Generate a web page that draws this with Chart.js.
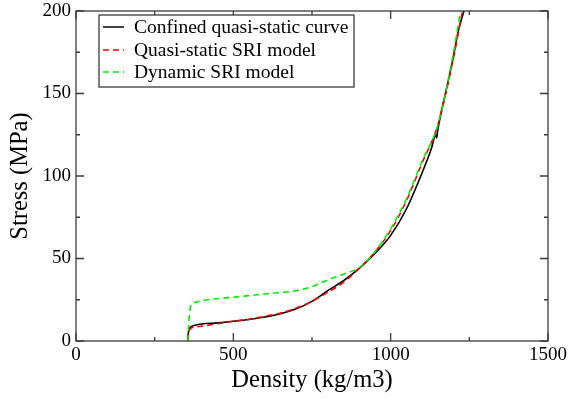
<!DOCTYPE html>
<html><head><meta charset="utf-8">
<script src="https://cdn.jsdelivr.net/npm/chart.js@4/dist/chart.umd.min.js"></script>
<style>html,body{margin:0;padding:0;background:#fff}#wrap{width:568px;height:399px}</style>
</head><body><div id="wrap"><canvas id="c" width="568" height="399"></canvas></div>
<script>
const seriesNames = ["Confined quasi-static curve", "Quasi-static SRI model", "Dynamic SRI model"];
const confinedDensity = [355, 356, 358, 362, 370, 385, 400, 450, 500, 550, 600, 650, 700, 750, 800, 850, 900, 950, 1000, 1050, 1100, 1130, 1143, 1146, 1149, 1160, 1180, 1200, 1215, 1233];
const confinedStress  = [0, 3, 6, 8, 9, 9.8, 10.3, 11, 12, 13, 14.5, 16.5, 19.5, 24, 30.5, 36.5, 44, 53, 64, 80, 102, 117, 125, 123, 127, 138, 155, 173, 188, 200];
const sriDensity = [355, 360, 368, 385, 400, 450, 500, 550, 600, 650, 700, 750, 800, 850, 900, 950, 1000, 1050, 1100, 1150, 1200, 1228];
const sriStress  = [0, 6, 8, 8.6, 9, 10.5, 12, 13.2, 15, 17, 20, 24, 29.5, 35.5, 44, 54, 67, 85, 108, 131, 172, 200];
const dynDensity = [355, 360, 366, 380, 400, 500, 600, 700, 750, 800, 850, 900, 950, 1000, 1050, 1100, 1150, 1200, 1222];
const dynStress  = [0, 15, 22, 23.5, 24.5, 26.5, 28.5, 30.5, 33, 37, 40.5, 44.5, 54, 68, 86, 109, 131, 175, 200];
const xTicks = [0, 500, 1000, 1500];
const yTicks = [0, 50, 100, 150, 200];

const pts = (xs, ys) => xs.map((x, i) => ({x: x, y: ys[i]}));
const serif = "'Liberation Serif', 'DejaVu Serif', serif";

const framePlugin = {
  id: 'frame',
  afterDatasetsDraw(chart) {
    const {ctx, chartArea: a, scales: {x, y}} = chart;
    ctx.save();
    ctx.strokeStyle = '#3a3a3a';
    ctx.lineWidth = 1.3;
    ctx.strokeRect(a.left, a.top, a.right - a.left, a.bottom - a.top);
    ctx.beginPath();
    for (let v = 0; v <= 1500; v += 250) {
      const px = x.getPixelForValue(v);
      const L = (v % 500 === 0) ? 8 : 4;
      ctx.moveTo(px, a.bottom); ctx.lineTo(px, a.bottom - L);
      ctx.moveTo(px, a.top); ctx.lineTo(px, a.top + L);
    }
    for (let v = 0; v <= 200; v += 25) {
      const py = y.getPixelForValue(v);
      const L = (v % 50 === 0) ? 8 : 4;
      ctx.moveTo(a.left, py); ctx.lineTo(a.left + L, py);
      ctx.moveTo(a.right, py); ctx.lineTo(a.right - L, py);
    }
    ctx.stroke();
    // legend
    const bx = 99, by = 15, bw = 255, bh = 72;
    ctx.fillStyle = '#fff';
    ctx.fillRect(bx, by, bw, bh);
    ctx.strokeStyle = '#3a3a3a';
    ctx.lineWidth = 1.3;
    ctx.strokeRect(bx, by, bw, bh);
    const rows = [27, 50, 72];
    chart.data.datasets.forEach((ds, i) => {
      ctx.strokeStyle = ds.borderColor;
      ctx.lineWidth = 1.5;
      ctx.setLineDash(ds.borderDash || []);
      ctx.beginPath();
      ctx.moveTo(103, rows[i]); ctx.lineTo(124, rows[i]);
      ctx.stroke();
      ctx.setLineDash([]);
      ctx.fillStyle = '#000';
      ctx.font = "19.5px " + serif;
      ctx.textBaseline = 'middle';
      ctx.textAlign = 'left';
      ctx.fillText(ds.label, 134, rows[i] + 1);
    });
    ctx.restore();
  }
};

new Chart(document.getElementById('c'), {
  type: 'line',
  data: {
    datasets: [
      {label: seriesNames[0], data: pts(confinedDensity, confinedStress), borderColor: '#000000', borderWidth: 1.6, order: 3},
      {label: seriesNames[1], data: pts(sriDensity, sriStress), borderColor: '#ff0000', borderWidth: 1.6, borderDash: [6, 4], order: 2},
      {label: seriesNames[2], data: pts(dynDensity, dynStress), borderColor: '#00ee00', borderWidth: 1.6, borderDash: [6, 4], order: 1}
    ]
  },
  options: {
    responsive: false,
    animation: false,
    events: [],
    layout: {padding: {left: 6, right: 20, top: 11, bottom: 4}},
    elements: {point: {radius: 0}, line: {cubicInterpolationMode: 'monotone', fill: false}},
    plugins: {legend: {display: false}, tooltip: {enabled: false}},
    scales: {
      x: {
        type: 'linear', min: 0, max: 1500,
        afterBuildTicks: s => { s.ticks = xTicks.map(v => ({value: v})); },
        afterFit: s => { s.height = 54; s.paddingLeft = 0; s.paddingRight = 0; },
        grid: {display: false, drawTicks: false},
        border: {display: false},
        ticks: {color: '#000', font: {family: serif, size: 19, lineHeight: 1}, padding: 5, maxRotation: 0, callback: v => String(v)},
        title: {display: true, text: 'Density (kg/m3)', color: '#000', font: {family: serif, size: 24.5}, padding: {top: 0, bottom: 0}}
      },
      y: {
        type: 'linear', min: 0, max: 200,
        afterBuildTicks: s => { s.ticks = yTicks.map(v => ({value: v})); },
        afterFit: s => { s.width = 70; s.paddingTop = 0; s.paddingBottom = 0; },
        grid: {display: false, drawTicks: false},
        border: {display: false},
        ticks: {color: '#000', font: {family: serif, size: 19, lineHeight: 1}, padding: 5, callback: v => String(v)},
        title: {display: true, text: 'Stress (MPa)', color: '#000', font: {family: serif, size: 24.5}, padding: {top: 0, bottom: 0}}
      }
    }
  },
  plugins: [framePlugin]
});
</script></body></html>
